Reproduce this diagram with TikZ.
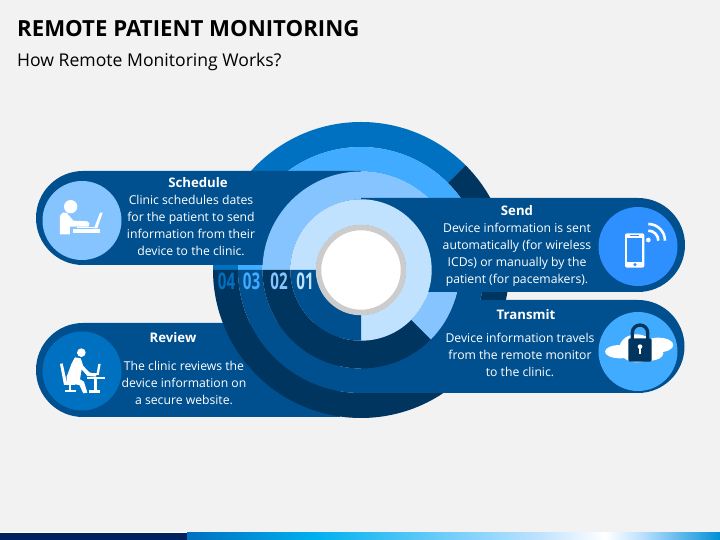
\documentclass[tikz,border=0pt]{standalone}
\usepackage{fontspec}
\usepackage{graphicx}
\setmainfont{Open Sans}
\usetikzlibrary{calc}
\usetikzlibrary{shapes}
\definecolor{pagegrey}{HTML}{F2F2F2}
\definecolor{bandblue}{HTML}{00508F}
\definecolor{deepblue}{HTML}{003560}
\definecolor{midblue}{HTML}{0070C0}
\definecolor{skyblue}{HTML}{40ABFF}
\definecolor{softblue}{HTML}{85C4FF}
\definecolor{paleblue}{HTML}{C0E2FF}
\definecolor{sendblue}{HTML}{2E8FFF}
\definecolor{barnavy}{HTML}{002060}
\definecolor{barcyan}{HTML}{00B0F0}
\definecolor{barend}{HTML}{0090D8}
\tikzset{
  bodytext/.style = {text = white, font = \fontsize{12.2}{17}\selectfont, align = center, inner sep = 0pt},
  headtext/.style = {text = white, font = \fontsize{13.2}{17}\selectfont\bfseries, inner sep = 0pt},
  numtext/.style = {font = \fontsize{23}{23}\selectfont\bfseries, inner sep = 0pt},
  iconcircle/.style = {circle, minimum size = 79pt, inner sep = 0pt},
  iconpart/.style = {x = .3333pt, y = -.3333pt}
}
\newcommand{\ringpart}[5]{\fill[#5] (#1:#3) arc (#1:#2:#3) -- (#2:#4) arc (#2:#1:#4) -- cycle;}
\begin{document}
\begin{tikzpicture}[x = 1pt, y = 1pt]
\useasboundingbox (0,0) rectangle (720,540);
\fill[pagegrey] (0,0) rectangle (720,540);
\fill[white] (0,7) rectangle (720,8);
\fill[barnavy] (0,0) rectangle (187,7);
\shade[left color = midblue, right color = barcyan] (187,0) rectangle (315,7);
\shade[left color = barcyan, right color = paleblue] (315,0) rectangle (540,7);
\shade[left color = paleblue, right color = white] (540,0) rectangle (605,7);
\shade[left color = white, right color = paleblue] (605,0) rectangle (640,7);
\shade[left color = paleblue, right color = barend] (640,0) rectangle (720,7);

\draw (17,511.5) node[anchor = west, name = title, inner sep = 0pt, font = \fontsize{22.2}{25}\selectfont\bfseries]{REMOTE PATIENT MONITORING};
\draw (title.west) + (0,-33) node[anchor = west, name = subtitle, inner sep = 0pt, font = \fontsize{17.6}{20}\selectfont]{How Remote Monitoring Works?};

\fill[bandblue] (340,217) -- (83,217) arc (90:270:47) -- (340,123) -- cycle;

\begin{scope}[shift = {(361,270)}]
\ringpart{180}{45}{148}{123}{midblue}
\ringpart{45}{-180}{148}{123}{deepblue}
\ringpart{180}{0}{123}{98.5}{skyblue}
\ringpart{0}{-180}{123}{98.5}{bandblue}
\end{scope}

\fill[bandblue] (361,369) -- (83,369) arc (90:270:47) -- (361,275) -- cycle;
\fill[bandblue] (361,240) -- (638,240) arc (90:-90:46.5) -- (361,147) -- cycle;

\begin{scope}[shift = {(361,270)}]
\ringpart{180}{-45}{98.5}{70.7}{softblue}
\ringpart{-45}{-180}{98.5}{70.7}{deepblue}
\end{scope}

\fill[bandblue] (361,342) -- (638,342) arc (90:-90:47) -- (361,248) -- cycle;

\begin{scope}[shift = {(361,270)}]
\ringpart{180}{-90}{70.7}{45}{paleblue}
\ringpart{-90}{-180}{70.7}{45}{bandblue}
\end{scope}

\draw (361,270) node[circle, name = hub, fill = white, draw = black!20, line width = 5.5pt, minimum size = 85pt, inner sep = 0pt]{};

\draw (305,258.5) node[numtext, name = num1, text = paleblue]{\scalebox{.66}[1]{01}};
\draw (num1) + (-26,0) node[numtext, name = num2, text = softblue]{\scalebox{.66}[1]{02}};
\draw (num2) + (-27.5,0) node[numtext, name = num3, text = skyblue]{\scalebox{.66}[1]{03}};
\draw (num3) + (-25,0) node[numtext, name = num4, text = midblue]{\scalebox{.66}[1]{04}};

\draw (82,319.5) node[iconcircle, name = schedicon, fill = softblue]{};
\draw (schedicon) + (0,-150.5) node[iconcircle, name = reviewicon, fill = midblue]{};
\draw (638,293.5) node[iconcircle, name = sendicon, fill = sendblue]{};
\draw (sendicon) + (0,-105) node[iconcircle, name = transicon, fill = skyblue]{};

\begin{scope}[shift = {(50,350)}, iconpart]
\fill[white] (62,50) circle (20);
\fill[white] (30,78) -- (38,68) -- (50,68) -- (70,92) -- (112,94) -- (118,100) -- (116,110) -- (60,110) -- (60,133) -- (30,133) -- cycle;
\fill[white] (82,110) -- (132,110) -- (132,115) -- (82,115) -- cycle;
\fill[white] (68,118) -- (150,118) -- (150,128) -- (68,128) -- cycle;
\fill[white] (132,115) -- (150,68) -- (158,68) -- (142,115) -- cycle;
\end{scope}

\begin{scope}[shift = {(50,200)}, iconpart]
\fill[white] (94,38) circle (13);
\fill[white] (75,52) -- (92,55) -- (100,78) -- (118,97) -- (140,103) -- (138,110) -- (112,108) -- (95,88) -- (90,118) -- (102,125) -- (112,158) -- (100,160) -- (88,135) -- (50,130) -- (50,110) -- (65,70) -- cycle;
\fill[white] (30,72) -- (38,70) -- (50,125) -- (75,128) -- (75,135) -- (42,135) -- cycle;
\fill[white] (58,135) -- (64,135) -- (64,150) -- (58,150) -- cycle;
\fill[white] (45,150) -- (78,150) -- (78,157) -- (45,157) -- cycle;
\fill[white] (110,110) -- (165,110) -- (165,116) -- (110,116) -- cycle;
\fill[white] (133,116) -- (142,116) -- (142,150) -- (133,150) -- cycle;
\fill[white] (118,150) -- (150,150) -- (150,158) -- (118,158) -- cycle;
\fill[white] (140,100) -- (145,72) -- (152,72) -- (147,100) -- cycle;
\fill[white] (118,100) -- (147,100) -- (147,105) -- (118,105) -- cycle;
\end{scope}

\begin{scope}[shift = {(610,325)}, iconpart]
\fill[white, rounded corners = 2pt] (45,55) rectangle (103,158);
\fill[sendblue] (52,68) rectangle (97,140);
\fill[sendblue] (75,149) circle (5);
\draw[sendblue, line width = .6pt] (60,61) -- (88,61);
\fill[white] (115,75) circle (7);
\draw[white, line width = 2.6pt] (115,47) arc (-90:0:30);
\draw[white, line width = 2.6pt] (115,27) arc (-90:0:50);
\end{scope}

\begin{scope}[shift = {(600,220)}, iconpart]
\fill[white] (60,95) ellipse (45 and 20);
\fill[white] (110,85) ellipse (52 and 42);
\fill[white] (175,75) ellipse (45 and 22);
\fill[white] (150,100) ellipse (40 and 22);
\draw[deepblue, line width = 3.3pt] (97,60) -- (97,38) arc (180:360:23) -- (143,60);
\fill[deepblue, rounded corners = 1.5pt] (85,55) rectangle (155,125);
\fill[white] (120,80) circle (7);
\fill[white] (117,80) rectangle (123,102);
\end{scope}

\draw (198,357) node[headtext, name = schedhead]{Schedule};
\draw (schedhead) + (-7,-12) node[bodytext, name = schedbody, anchor = north]{Clinic schedules dates\\for the patient to send\\information from their\\device to the clinic.};
\draw (173,202) node[headtext, name = reviewhead]{Review};
\draw (reviewhead) + (11,-23) node[bodytext, name = reviewbody, anchor = north]{The clinic reviews the\\device information on\\a secure website.};
\draw (517,329) node[headtext, name = sendhead]{Send};
\draw (sendhead) + (0,-12) node[bodytext, name = sendbody, anchor = north]{Device information is sent\\automatically (for wireless\\ICDs) or manually by the\\patient (for pacemakers).};
\draw (526,225) node[headtext, name = transhead]{Transmit};
\draw (transhead) + (-6,-17.5) node[bodytext, name = transbody, anchor = north]{Device information travels\\from the remote monitor\\to the clinic.};
\end{tikzpicture}
\end{document}
